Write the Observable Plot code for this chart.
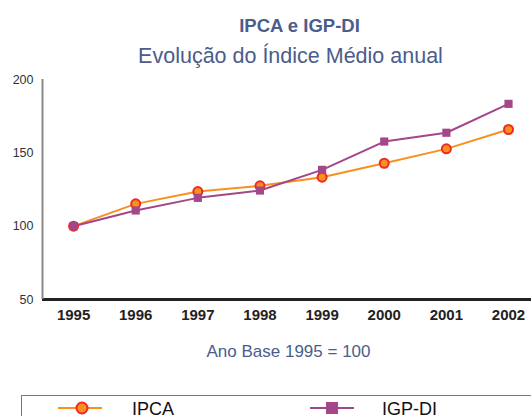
<!DOCTYPE html>
<html><head><meta charset="utf-8">
<script src="https://cdn.jsdelivr.net/npm/d3@7"></script>
<script src="https://cdn.jsdelivr.net/npm/@observablehq/plot@0.6"></script>
<style>
body{margin:0;background:#fff;font-family:"Liberation Sans",Arial,sans-serif;}
#wrap{position:relative;width:531px;height:416px;overflow:hidden;}
.t{position:absolute;width:531px;text-align:center;color:#4a5d8b;white-space:nowrap;line-height:normal;}
#chart{position:absolute;left:0;top:0;}
</style></head><body>
<div id="wrap">
<div id="chart"></div>
<div class="t" style="top:15px;left:34px;font-size:18.5px;font-weight:bold;">IPCA e IGP-DI</div>
<div class="t" style="top:44px;left:25px;font-size:21.5px;">Evolução do Índice Médio anual</div>
<div class="t" style="top:342px;left:23px;font-size:17px;">Ano Base 1995 = 100</div>
<div id="legend" style="position:absolute;left:21px;top:395px;width:560px;height:40px;border:1px solid #777;"></div>
</div>
<script>
const years = [1995,1996,1997,1998,1999,2000,2001,2002];
const ipca = [100,115.2,123.6,127.5,133.4,142.9,152.7,165.9];
const igpdi = [100,110.7,119.3,124.3,138.4,157.7,163.7,183.4];
const yTicks = [50,100,150,200];
const seriesNames = ["IPCA","IGP-DI"];
const colors = {IPCA:"#f7901e", IGPDI:"#a3468a", marker:"#ee2a24"};

const dIPCA = years.map((y,i)=>({year:y, v:ipca[i]}));
const dIGP = years.map((y,i)=>({year:y, v:igpdi[i]}));

const plot = Plot.plot({
  width:531, height:330,
  marginTop:79, marginBottom:31, marginLeft:42, marginRight:0,
  style:{fontFamily:"Liberation Sans, Arial, sans-serif", background:"transparent"},
  x:{type:"linear", domain:[1994.5,2002.37], ticks:years, tickFormat:"d", label:null},
  y:{domain:[50,200], ticks:yTicks, label:null},
  marks:[
    Plot.axisY({ticks:yTicks, tickSize:0, tickPadding:9, fontSize:12.5, fill:"#333", label:null}),
    Plot.axisX({ticks:years, tickFormat:"d", tickSize:0, tickPadding:10, fontSize:15, fontWeight:"bold", fill:"#222", label:null}),
    Plot.ruleY([50], {stroke:"#222", strokeWidth:3}),
    Plot.ruleX([1994.5], {y1:50, y2:200, stroke:"#888", strokeWidth:2}),
    Plot.line(dIPCA, {x:"year", y:"v", stroke:colors.IPCA, strokeWidth:2}),
    Plot.line(dIGP, {x:"year", y:"v", stroke:colors.IGPDI, strokeWidth:2}),
    Plot.dot(dIPCA, {x:"year", y:"v", r:4.5, fill:colors.IPCA, stroke:colors.marker, strokeWidth:2}),
    Plot.dot(dIGP, {x:"year", y:"v", symbol:"square", r:4.6, fill:colors.IGPDI, stroke:"none"})
  ]
});
document.getElementById("chart").appendChild(plot);

// legend
const lg = d3.select("#legend").append("svg").attr("width",560).attr("height",40);
const items = [
  {name:seriesNames[0], x0:36, color:colors.IPCA, sym:"circle", tx:110},
  {name:seriesNames[1], x0:288, color:colors.IGPDI, sym:"square", tx:360}
];
items.forEach(it=>{
  lg.append("line").attr("x1",it.x0).attr("x2",it.x0+44).attr("y1",12).attr("y2",12)
    .attr("stroke",it.color).attr("stroke-width",2);
  if(it.sym==="circle"){
    lg.append("circle").attr("cx",it.x0+24).attr("cy",12).attr("r",5.5)
      .attr("fill",it.color).attr("stroke",colors.marker).attr("stroke-width",2);
  } else {
    lg.append("rect").attr("x",it.x0+16).attr("y",6).attr("width",12).attr("height",12).attr("fill",it.color);
  }
  lg.append("text").attr("x",it.tx).attr("y",19).attr("font-size",18)
    .attr("font-family","Liberation Sans, Arial, sans-serif").attr("fill","#111").text(it.name);
});
</script>
</body></html>
